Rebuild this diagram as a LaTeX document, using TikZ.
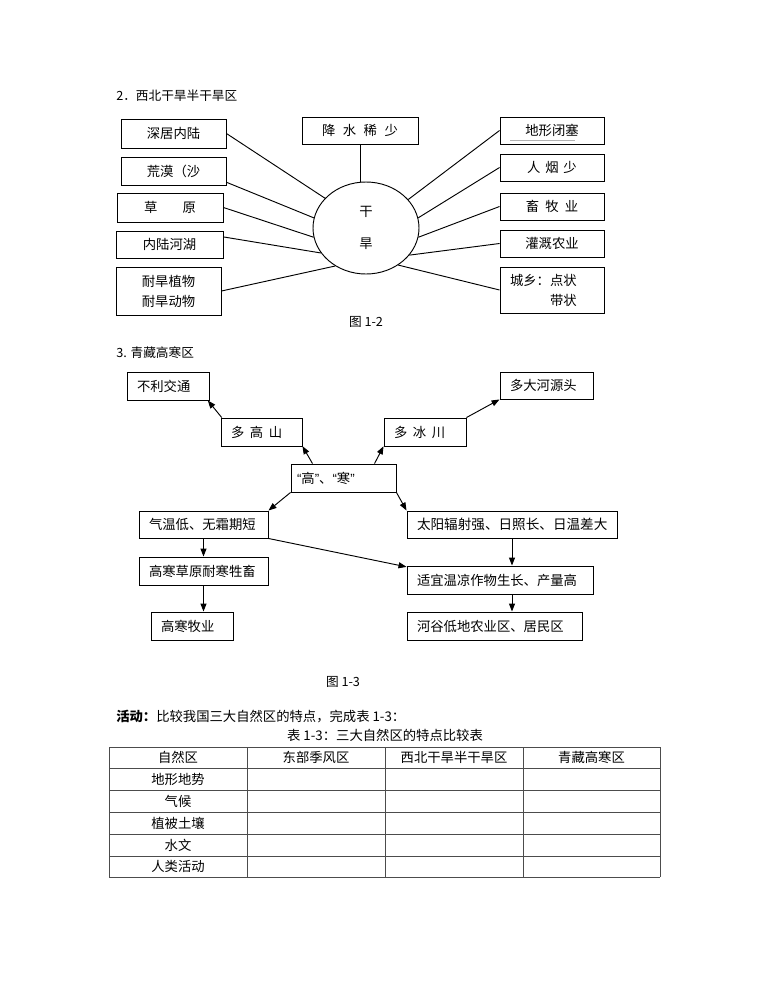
\documentclass[tikz,border=0pt]{standalone}
\usepackage{fontspec}
\setmainfont{Noto Sans CJK SC}
\newfontfamily\quotefont{Liberation Sans}
\usetikzlibrary{arrows.meta,shapes.geometric}
\newcommand{\kg}[1][.42em]{\hspace{#1}}

\begin{document}
\begin{tikzpicture}[x=0.75pt,y=-0.75pt]
\tikzset{
  textbox/.style={rectangle,draw=black,line width=0.7pt,font=\fontsize{10}{15}\selectfont,align=center,inner sep=2pt},
  leftbox/.style={textbox,align=left,inner xsep=7.5pt,text width=#1},
  titletext/.style={anchor=west,inner sep=0pt,font=\fontsize{9.5}{12}\selectfont},
  captext/.style={inner sep=0pt,font=\fontsize{9.5}{12}\selectfont},
  cellword/.style={inner sep=0pt,font=\fontsize{10}{12}\selectfont},
  linkline/.style={draw=black,line width=0.7pt},
  arrowline/.style={linkline,-{Triangle[length=6pt,width=4.5pt]}},
  tableline/.style={draw=black!70,line width=0.6pt}
}
\path[use as bounding box,fill=white] (0,0) rectangle (770,1000);

% 2. northwest
\node[titletext] (t_2) at (116,96) {2．西北干旱半干旱区};
\node[ellipse,draw=black,line width=0.7pt,minimum width=79.5pt,minimum height=69pt,inner sep=0pt,align=center,font=\fontsize{10}{24}\selectfont] (n_gh) at (366,228) {干\\旱};
\node[textbox,minimum width=87pt,minimum height=20.25pt] (n_js) at (360,130.5) {降\kg[.56em]水\kg[.56em]稀\kg[.56em]少};
\node[textbox,minimum width=78.75pt,minimum height=21.75pt] (n_sj) at (173.5,133.5) {深居内陆};
\node[textbox,minimum width=78.75pt,minimum height=21pt] (n_hm) at (173.5,171) {荒漠（沙};
\node[textbox,minimum width=79.5pt,minimum height=21.75pt] (n_cy) at (170,207.5) {草\kg[1.9em]原};
\node[textbox,minimum width=80.25pt,minimum height=20.25pt] (n_nl) at (169.5,244.5) {内陆河湖};
\node[textbox,minimum width=78.75pt,minimum height=36pt] (n_nh) at (168.5,291) {耐旱植物\\耐旱动物};
\node[textbox,minimum width=78pt,minimum height=20.25pt] (n_dx) at (552,130.5) {地形闭塞};
\node[textbox,minimum width=78pt,minimum height=20.25pt] (n_ry) at (552,167.5) {人\kg[.36em]烟\kg[.36em]少};
\node[textbox,minimum width=78pt,minimum height=20.25pt] (n_xm) at (552,206.5) {畜\kg[.46em]牧\kg[.46em]业};
\node[textbox,minimum width=78pt,minimum height=20.25pt] (n_gg) at (552,243.5) {灌溉农业};
\node[leftbox=63pt,minimum height=34.5pt] (n_cx) at (552,290) {城乡：点状\\\hphantom{城乡：}带状};
\draw[gray!60,line width=0.5pt] (510,140) -- (575,140);
\node[captext] (c_12) at (366,322) {图 1-2};
\draw[linkline] (n_js.south) -- (n_js.south |- n_gh.north);
\draw[linkline] (n_sj.east) -- (n_gh.144);
\draw[linkline] (n_hm.-12) -- (n_gh.169);
\draw[linkline] (n_cy.east) -- (n_gh.190);
\draw[linkline] (n_nl.8) -- (n_gh.209);
\draw[linkline] (n_nh.east) -- (n_gh.231);
\draw[linkline] (n_dx.west) -- (n_gh.34);
\draw[linkline] (n_ry.west) -- (n_gh.11);
\draw[linkline] (n_xm.west) -- (n_gh.350);
\draw[linkline] (n_gg.west) -- (n_gh.328);
\draw[linkline] (n_cx.west) -- (n_gh.311);

% 3. qingzang
\node[titletext] (t_3) at (116,353) {3. 青藏高寒区};
\node[leftbox=46.5pt,minimum height=21pt] (n_bl) at (168,386) {不利交通};
\node[leftbox=45.75pt,minimum height=21pt] (n_dg) at (261.5,432) {多\kg 高\kg 山};
\node[leftbox=69.75pt,inner xsep=4.5pt,minimum height=21pt] (n_gs) at (343.5,478) {{\quotefont“}高{\quotefont”}、{\quotefont“}寒{\quotefont”}};
\node[leftbox=46.5pt,minimum height=21pt] (n_db) at (425,432) {多\kg 冰\kg 川};
\node[leftbox=54.75pt,minimum height=20.25pt] (n_dh) at (546.5,385.5) {多大河源头};
\node[leftbox=81.75pt,minimum height=20.25pt] (n_qw) at (203.5,524.5) {气温低、无霜期短};
\node[leftbox=142.5pt,minimum height=20.25pt,font=\fontsize{10.2}{14}\selectfont] (n_ty) at (512,524.5) {太阳辐射强、日照长、日温差大};
\node[leftbox=81.75pt,minimum height=21pt] (n_gc) at (203.5,571) {高寒草原耐寒牲畜};
\node[leftbox=124.5pt,minimum height=21pt] (n_sy) at (500,580) {适宜温凉作物生长、产量高};
\node[leftbox=46.5pt,minimum height=21pt] (n_mu) at (192,626) {高寒牧业};
\node[leftbox=116.25pt,minimum height=21pt] (n_hg) at (494.5,626) {河谷低地农业区、居民区};
\node[captext] (c_13) at (343,682) {图 1-3};
\draw[arrowline] (n_gs.155) -- (n_dg.-19);
\draw[arrowline] (n_dg.160) -- (n_bl.-20);
\draw[arrowline] (n_gs.25) -- (n_db.199);
\draw[arrowline] (n_db.north east) -- (n_dh.south west);
\draw[arrowline] (n_gs.south west) -- (n_qw.north east);
\draw[arrowline] (n_gs.south east) -- (n_ty.north west);
\draw[arrowline] (n_qw.south) -- (n_gc.north);
\draw[arrowline] (n_gc.south) -- (n_gc.south |- n_mu.north);
\draw[arrowline] (n_ty.south) -- (n_ty.south |- n_sy.north);
\draw[arrowline] (n_ty.south |- n_sy.south) -- (n_ty.south |- n_hg.north);
\draw[arrowline] (n_qw.south east) -- (n_sy.172);

% table 1-3
\node[titletext,font=\fontsize{10}{12}\selectfont] (t_act) at (116,716) {{\bfseries 活动：}比较我国三大自然区的特点，完成表 1-3：};
\node[captext,font=\fontsize{10}{12}\selectfont] (t_tab) at (385,735) {表 1-3：三大自然区的特点比较表};
\foreach \y in {747,768,790,812,834,856,877}
  \draw[tableline] (109,\y) -- (660,\y);
\foreach \x in {109,247,385,523,660}
  \draw[tableline] (\x,747) -- (\x,877);
\foreach \t/\x [count=\i] in {自然区/178,东部季风区/316,西北干旱半干旱区/454,青藏高寒区/591.5}
  \node[cellword] (h_\i) at (\x,757.5) {\t};
\foreach \t/\y [count=\i] in {地形地势/779,气候/801,植被土壤/823,水文/845,人类活动/866.5}
  \node[cellword] (r_\i) at (178,\y) {\t};
\end{tikzpicture}
\end{document}
